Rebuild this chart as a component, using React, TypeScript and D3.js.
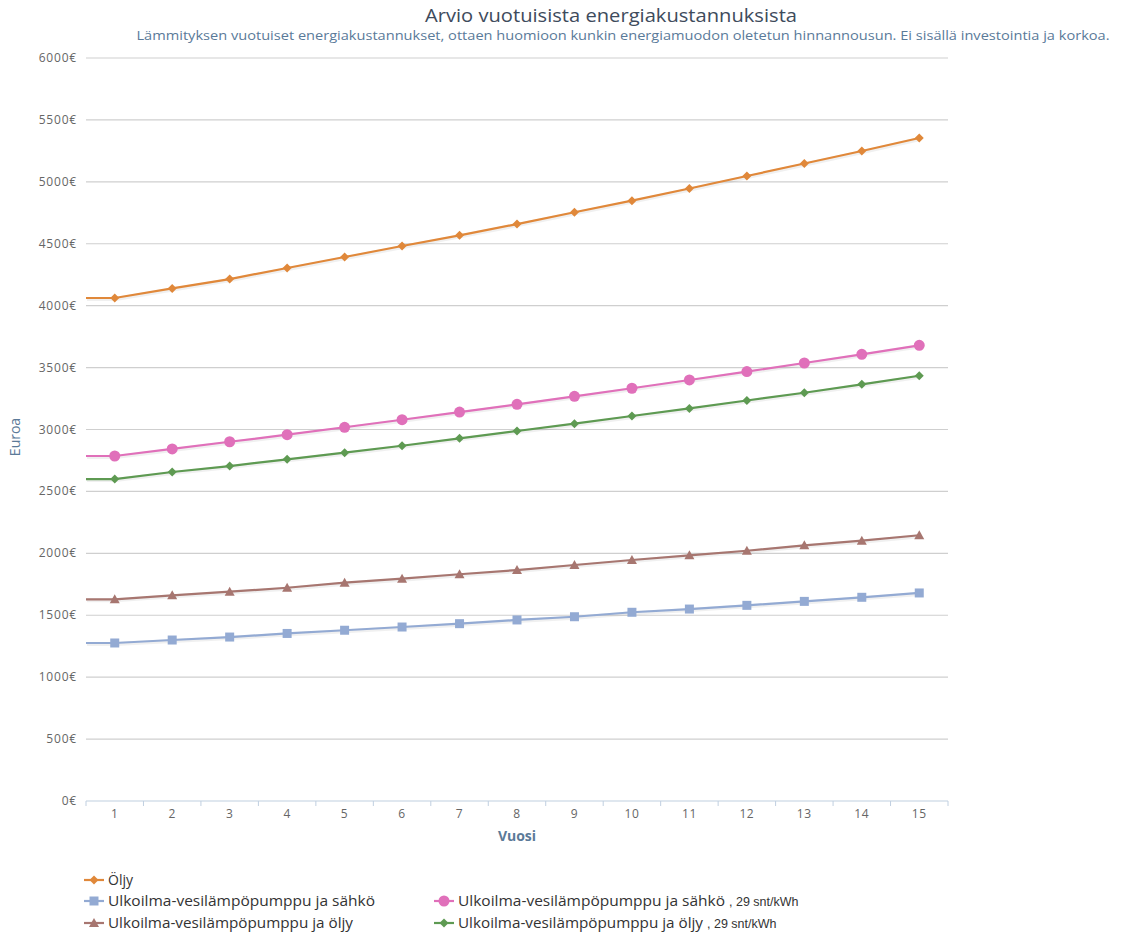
import React from "react";
import * as d3 from "d3";

const years = [1, 2, 3, 4, 5, 6, 7, 8, 9, 10, 11, 12, 13, 14, 15];
const yTicks = [0, 500, 1000, 1500, 2000, 2500, 3000, 3500, 4000, 4500, 5000, 5500, 6000];

const oljy = [4062, 4139, 4215, 4304, 4393, 4482, 4568, 4659, 4754, 4848, 4946, 5047, 5148, 5249, 5354];
const vlpSahko = [1276, 1300, 1324, 1353, 1379, 1405, 1432, 1462, 1488, 1524, 1550, 1580, 1612, 1645, 1680];
const vlpOljy = [1629, 1661, 1690, 1722, 1763, 1795, 1831, 1865, 1906, 1946, 1984, 2021, 2065, 2102, 2146];
const vlpSahko29 = [2786, 2843, 2901, 2958, 3018, 3079, 3141, 3203, 3268, 3333, 3400, 3468, 3537, 3607, 3680];
const vlpOljy29 = [2600, 2657, 2705, 2759, 2813, 2869, 2929, 2988, 3047, 3109, 3170, 3234, 3297, 3365, 3434];

const seriesNames = [
  "Öljy",
  "Ulkoilma-vesilämpöpumppu ja sähkö",
  "Ulkoilma-vesilämpöpumppu ja öljy",
  "Ulkoilma-vesilämpöpumppu ja sähkö",
  "Ulkoilma-vesilämpöpumppu ja öljy",
];
const seriesSuffix = ["", "", "", ", 29 snt/kWh", ", 29 snt/kWh"];

const W = 1125;
const H = 935;
const FONT = "'Open Sans', 'DejaVu Sans', sans-serif";

type Shape = "diamond" | "square" | "triangle" | "circle";

function markerPath(shape: Shape, cx: number, cy: number, r: number): string {
  switch (shape) {
    case "diamond":
      return `M${cx},${cy - r}L${cx + r},${cy}L${cx},${cy + r}L${cx - r},${cy}Z`;
    case "square":
      return `M${cx - r},${cy - r}L${cx + r},${cy - r}L${cx + r},${cy + r}L${cx - r},${cy + r}Z`;
    case "triangle":
      return `M${cx},${cy - r}L${cx + r},${cy + r * 0.8}L${cx - r},${cy + r * 0.8}Z`;
    case "circle":
      return `M${cx - r},${cy}A${r},${r} 0 1,0 ${cx + r},${cy}A${r},${r} 0 1,0 ${cx - r},${cy}Z`;
  }
}

export default function App() {
  const x = d3.scaleBand<number>().domain(years).range([86, 948]);
  const y = d3.scaleLinear().domain([0, 6000]).range([801, 58]);
  const bw = x.bandwidth();
  const cx = (d: number) => (x(d) as number) + bw / 2;

  const series = [
    { data: oljy, color: "#e0883a", shape: "diamond" as Shape, r: 4.5 },
    { data: vlpSahko, color: "#93aad3", shape: "square" as Shape, r: 4.5 },
    { data: vlpOljy, color: "#a77670", shape: "triangle" as Shape, r: 5 },
    { data: vlpSahko29, color: "#e070ba", shape: "circle" as Shape, r: 5.5 },
    { data: vlpOljy29, color: "#5e9a52", shape: "diamond" as Shape, r: 4.5 },
  ];

  const line = d3
    .line<[number, number]>()
    .x((d) => d[0])
    .y((d) => d[1]);

  const xLeft = x.range()[0];
  const xRight = x.range()[1];
  const boundaries = years.map((d) => x(d) as number).concat([xRight]);

  const legendPos = [
    { lx: 86, ly: 881 },
    { lx: 86, ly: 902 },
    { lx: 86, ly: 924 },
    { lx: 436, ly: 902 },
    { lx: 436, ly: 924 },
  ];
  const legendMainLen = [0, 267, 245, 267, 245];

  return (
    <svg width={W} height={H} style={{ position: "absolute", left: 0, top: 0, background: "#fff" }}>
      <rect x={0} y={0} width={W} height={H} fill="#fff" />
      {/* Titles */}
      <text x={611} y={22} textAnchor="middle" fontFamily={FONT} fontSize={18} fill="#3e4b5c" textLength={372} lengthAdjust="spacingAndGlyphs">
        Arvio vuotuisista energiakustannuksista
      </text>
      <text x={623} y={40} textAnchor="middle" fontFamily={FONT} fontSize={13} fill="#5a7a99" textLength={973} lengthAdjust="spacingAndGlyphs">
        Lämmityksen vuotuiset energiakustannukset, ottaen huomioon kunkin energiamuodon oletetun hinnannousun. Ei sisällä investointia ja korkoa.
      </text>

      {/* Grid */}
      {yTicks.map((t) => (
        <g key={t}>
          {t > 0 && (
            <line x1={xLeft} x2={xRight} y1={y(t)} y2={y(t)} stroke="#cfcfcf" strokeWidth={1.2} />
          )}
          <text x={77} y={y(t) + 4} textAnchor="end" fontFamily={FONT} fontSize={12} letterSpacing={0.8} fill="#666">
            {t}€
          </text>
        </g>
      ))}

      {/* X axis */}
      <line x1={xLeft} x2={xRight} y1={y(0)} y2={y(0)} stroke="#c0cfe0" strokeWidth={1.2} />
      {boundaries.map((b, i) => (
        <line key={i} x1={b} x2={b} y1={y(0)} y2={y(0) + 5} stroke="#c0cfe0" strokeWidth={1} />
      ))}
      {years.map((d) => (
        <text key={d} x={cx(d)} y={y(0) + 17} textAnchor="middle" fontFamily={FONT} fontSize={12} letterSpacing={0.6} fill="#666">
          {d}
        </text>
      ))}
      <text x={517} y={841} textAnchor="middle" fontFamily={FONT} fontSize={14} fontWeight="bold" fill="#5b7a98">
        Vuosi
      </text>
      <text
        transform={`translate(20, 437) rotate(-90)`}
        textAnchor="middle"
        fontFamily={FONT}
        fontSize={14}
        fill="#5b7a98"
      >
        Euroa
      </text>

      {/* Series */}
      {series.map((s, si) => {
        const pts: [number, number][] = [[xLeft, y(s.data[0])] as [number, number]].concat(
          years.map((d, i) => [cx(d), y(s.data[i])] as [number, number])
        );
        const p = line(pts) as string;
        return (
          <g key={si}>
            <path d={p} fill="none" stroke="#000" strokeOpacity={0.06} strokeWidth={4} transform="translate(1,1)" />
            <path d={p} fill="none" stroke={s.color} strokeWidth={2.2} />
            {years.map((d, i) => (
              <path key={d} d={markerPath(s.shape, cx(d), y(s.data[i]), s.r)} fill={s.color} />
            ))}
          </g>
        );
      })}

      {/* Legend */}
      {series.map((s, si) => {
        const { lx, ly } = legendPos[si];
        return (
          <g key={si}>
            <line x1={lx - 2} x2={lx + 18} y1={ly - 1} y2={ly - 1} stroke={s.color} strokeWidth={2.2} />
            <path d={markerPath(s.shape, lx + 8, ly - 1, s.r)} fill={s.color} />
            <text x={lx + 22} y={ly + 4} fontFamily={FONT} fontSize={14} fill="#333"
              textLength={legendMainLen[si] || undefined} lengthAdjust={legendMainLen[si] ? "spacingAndGlyphs" : undefined}>
              {seriesNames[si]}
            </text>
            {seriesSuffix[si] && (
              <text x={lx + 22 + legendMainLen[si] + 4} y={ly + 4} fontFamily="'Liberation Sans', Arial, sans-serif" fontSize={12.5} fill="#333">
                {seriesSuffix[si]}
              </text>
            )}
          </g>
        );
      })}
    </svg>
  );
}
